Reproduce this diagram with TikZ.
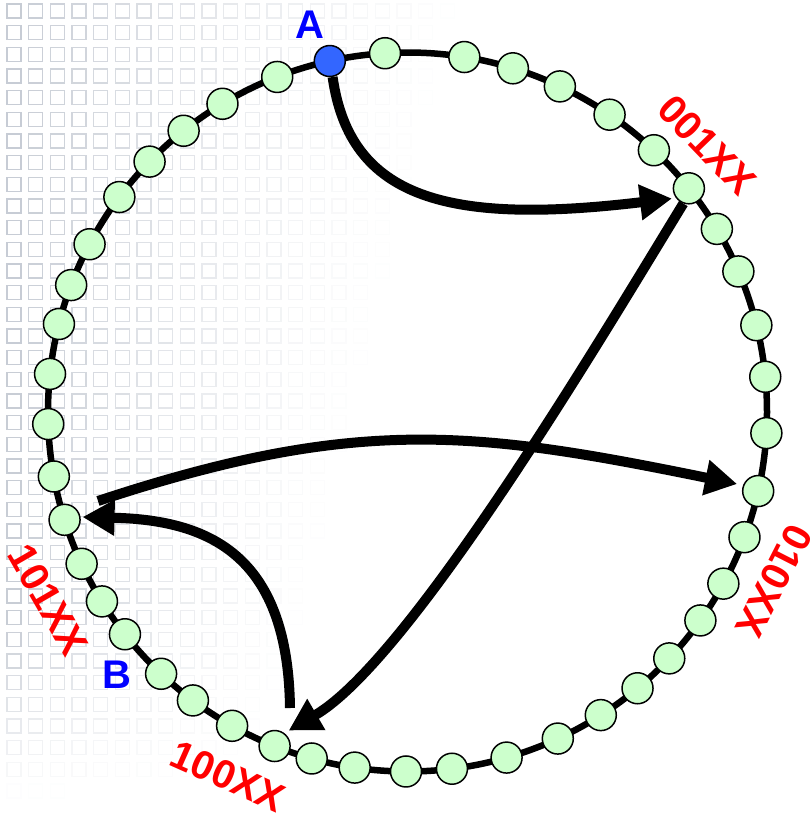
\documentclass[tikz,border=0pt]{standalone}
\usepackage{fontspec}
\setmainfont{Liberation Sans}
\usetikzlibrary{arrows.meta,calc}
\definecolor{nodegreen}{RGB}{204,255,204}
\definecolor{nodeblue}{RGB}{51,102,255}
\definecolor{gridgray}{RGB}{188,194,204}
\begin{document}
\begin{tikzpicture}[x=1pt,y=-1pt,
  dot/.style={circle,draw=black,line width=1.5pt,fill=nodegreen,minimum size=31pt,inner sep=0pt},
  adot/.style={dot,fill=nodeblue},
  ring/.style={line width=6.5pt},
  flow/.style={line width=10pt,-{Triangle[length=32pt,width=34pt]}},
  tag/.style={font=\fontsize{40}{40}\selectfont\bfseries,text=red,inner sep=0pt},
  letter/.style={tag,text=blue},
  gridsq/.style={draw=gridgray,line width=1.4pt}]
\useasboundingbox (0,0) rectangle (810,814);
% faint background grid, fading to the right and downwards
\foreach \i in {0,...,20}{
  \foreach \j in {0,...,36}{
    \pgfmathsetmacro{\gx}{7+21.67*\i}
    \pgfmathsetmacro{\gy}{4+21.67*\j}
    \pgfmathsetmacro{\lim}{470-0.26*\gy}
    \pgfmathsetmacro{\fx}{max(0,1-\gx/\lim)}
    \pgfmathsetmacro{\op}{\fx^1.3*min(1,max(0,(790-\gy)/170))*0.85}
    \ifdim\op pt>0.02pt
      \path[gridsq,draw opacity=\op] (\gx,\gy) rectangle ++(14,14);
    \fi
  }
}
% ring
\coordinate (C) at (407.5,412);
\draw[ring] (C) circle[radius=359.5pt];
% nodes on the ring
\node[adot] (n1) at ($(C)!359.5pt!(330,62)$) {};
\foreach \x/\y [count=\k from 2] in {278/79,222/103,183/130,151/163,122/199,91/245,71/285,59/324,51/374,50/424,51/477,64/520,79/565,101/602,124/635,159/676,191/703,232/726,275/745,311/761,354/772,406/773,452/769,507/759,558/739,602/717,639/690,671/660,704/623,724/584,744/537,758/491,765/433,763/377,757/325,737/272,715/230,688/189,656/148,608/117,561/84,513/68,465/53,385/53}
  \node[dot] (n\k) at ($(C)!359.5pt!(\x,\y)$) {};
% labels
\node[letter] (labA) at (310,25) {A};
\node[letter] (labB) at (117,675) {B};
\node[tag,rotate=-46] (l001) at (707,145) {001XX};
\node[tag,rotate=-117] (l010) at (774,581) {010XX};
\node[tag,rotate=-60] (l101) at (48,600) {101XX};
\node[tag,rotate=-24] (l100) at (228,776) {100XX};
% arrows
\coordinate (s3) at (98,501);
\coordinate (s4) at (290,708);
\draw[flow,shorten >=4pt] (n1.-80) .. controls (350,200) and (450,225) .. (n39.217);
\draw[flow,shorten >=5pt] (n39.250) .. controls (600,340) and (410,660) .. (n20.53);
\draw[flow,shorten >=6pt] (s3) .. controls (358,415) and (477,431) .. (n33.159);
\draw[flow,shorten >=2pt] (s4) .. controls (288,560) and (215,520) .. (n13.10);
\end{tikzpicture}
\end{document}
